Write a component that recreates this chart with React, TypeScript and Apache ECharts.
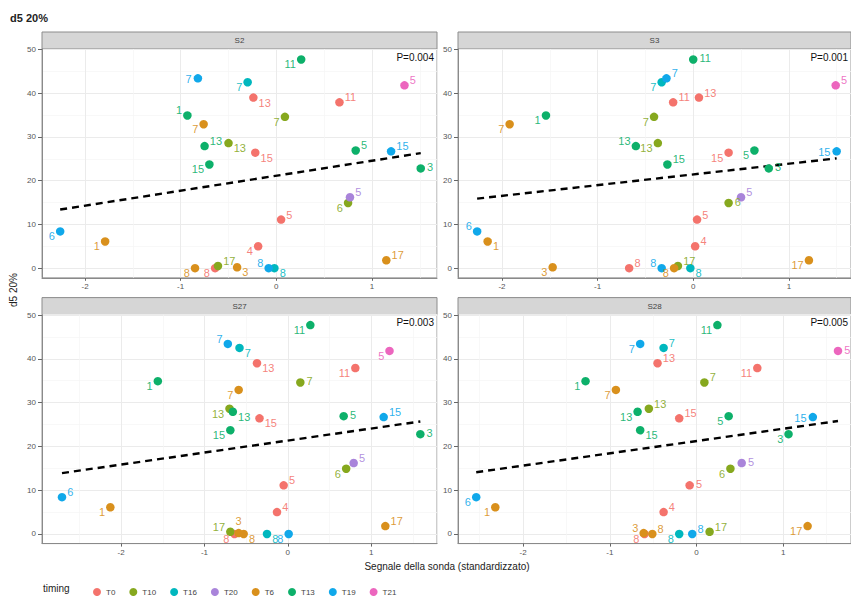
import React, { useEffect, useRef } from 'react';
import * as echarts from 'echarts';

// ---- DATA ----
const timingOrder = ['T0', 'T10', 'T16', 'T20', 'T6', 'T13', 'T19', 'T21'];
const timingColors: Record<string, string> = {
  T0: '#F4736C',
  T10: '#86A81E',
  T16: '#00B7BE',
  T20: '#A984DA',
  T6: '#D9901C',
  T13: '#0DB06A',
  T19: '#10A8EA',
  T21: '#EC66BE',
};

const panelNames = ['S2', 'S3', 'S27', 'S28'];
const pValues = ['P=0.004', 'P=0.001', 'P=0.003', 'P=0.005'];

const subjects = ['11', '7', '7', '13', '11', '5', '1', '7', '7', '13', '13', '15', '15', '5', '15', '3', '5', '6', '5', '4', '6', '1', '17', '17', '3', '8', '8', '8', '8'];
const timings = ['T13', 'T19', 'T16', 'T0', 'T0', 'T21', 'T13', 'T10', 'T6', 'T13', 'T10', 'T0', 'T13', 'T13', 'T19', 'T13', 'T20', 'T10', 'T0', 'T0', 'T19', 'T6', 'T6', 'T10', 'T6', 'T6', 'T0', 'T16', 'T19'];
const d5 = [47.7, 43.4, 42.5, 39.0, 37.9, 41.8, 34.9, 34.6, 32.9, 27.9, 28.6, 26.4, 23.7, 26.9, 26.7, 22.8, 16.2, 14.9, 11.1, 5.0, 8.4, 6.1, 1.8, 0.5, 0.2, 0, 0, 0, 0];

const xS2 = [0.26, -0.82, -0.30, -0.24, 0.66, 1.34, -0.93, 0.09, -0.76, -0.75, -0.50, -0.22, -0.70, 0.83, 1.20, 1.51, 0.77, 0.75, 0.05, -0.19, -2.26, -1.79, 1.15, -0.61, -0.41, -0.85, -0.64, -0.02, -0.08];
const xS3 = [0.00, -0.28, -0.33, 0.06, -0.21, 1.49, -1.54, -0.41, -1.92, -0.60, -0.37, 0.37, -0.27, 0.64, 1.50, 0.79, 0.50, 0.37, 0.04, 0.02, -2.26, -2.15, 1.21, -0.16, -1.47, -0.20, -0.67, -0.03, -0.33];
const xS27 = [0.27, -0.72, -0.58, -0.37, 0.81, 1.22, -1.56, 0.15, -0.59, -0.66, -0.70, -0.34, -0.69, 0.67, 1.15, 1.59, 0.79, 0.70, -0.05, -0.13, -2.71, -2.13, 1.17, -0.69, -0.59, -0.53, -0.64, -0.25, 0.01];
const xS28 = [0.24, -0.65, -0.38, -0.45, 0.70, 1.63, -1.28, 0.09, -0.93, -0.68, -0.55, -0.20, -0.65, 0.37, 1.34, 1.06, 0.52, 0.39, -0.08, -0.38, -2.54, -2.32, 1.28, 0.15, -0.61, -0.51, -0.60, -0.20, -0.05];

// regression line end points
const fitS2 = [[-2.26, 13.4], [1.51, 26.3]];
const fitS3 = [[-2.26, 15.9], [1.50, 25.1]];
const fitS27 = [[-2.71, 13.9], [1.59, 25.7]];
const fitS28 = [[-2.54, 14.1], [1.63, 25.8]];

// ---- LAYOUT (label placement, panel geometry) ----
const labelDirS2 = ['lb', 'l', 'lb', 'rb', 'ra', 'ra', 'la', 'lb', 'lb', 'ra', 'rb', 'rb', 'lb', 'ra', 'ra', 'r', 'ra', 'lb', 'ra', 'lb', 'lb', 'lb', 'ra', 'ra', 'rb', 'lb', 'lb', 'rb', 'la'];
const labelDirS3 = ['r', 'ra', 'lb', 'ra', 'ra', 'ra', 'lb', 'lb', 'lb', 'la', 'lb', 'lb', 'ra', 'lb', 'l', 'r', 'ra', 'r', 'ra', 'ra', 'la', 'rb', 'lb', 'ra', 'lb', 'lb', 'ra', 'rb', 'la'];
const labelDirS27 = ['lb', 'la', 'rb', 'rb', 'lb', 'lb', 'lb', 'r', 'lb', 'rb', 'lb', 'rb', 'lb', 'r', 'ra', 'r', 'ra', 'lb', 'ra', 'ra', 'ra', 'lb', 'ra', 'la', 'a', 'rb', 'lb', 'rb', 'lb'];
const labelDirS28 = ['lb', 'lb', 'ra', 'ra', 'lb', 'r', 'lb', 'ra', 'lb', 'lb', 'ra', 'ra', 'rb', 'lb', 'l', 'lb', 'r', 'lb', 'r', 'ra', 'lb', 'lb', 'lb', 'ra', 'la', 'ra', 'lb', 'lb', 'ra'];

const panelX = [xS2, xS3, xS27, xS28];
const panelFit = [fitS2, fitS3, fitS27, fitS28];
const panelDirs = [labelDirS2, labelDirS3, labelDirS27, labelDirS28];

const PANELS = [
  { left: 42, top: 49, width: 395, height: 228.8, xMin: -2.45, xMax: 1.68 },
  { left: 458, top: 49, width: 393, height: 228.8, xMin: -2.46, xMax: 1.65 },
  { left: 42, top: 314.6, width: 395, height: 229, xMin: -2.95, xMax: 1.79 },
  { left: 458, top: 314.6, width: 393, height: 229, xMin: -2.75, xMax: 1.78 },
];
const Y_MIN = -2.2;
const Y_MAX = 50.1;
const STRIP_H = 17;
const FONT = '"Liberation Sans", Arial, Helvetica, sans-serif';

function labelFor(dir: string) {
  switch (dir) {
    case 'r': return { position: 'right', offset: [0, -1] };
    case 'l': return { position: 'left', offset: [0, 1] };
    case 'ra': return { position: 'right', offset: [-1, -5] };
    case 'rb': return { position: 'right', offset: [-1, 5] };
    case 'la': return { position: 'left', offset: [1, -5] };
    case 'lb': return { position: 'left', offset: [1, 5] };
    case 'a': return { position: 'top', offset: [0, 0] };
    default: return { position: 'bottom', offset: [0, 0] };
  }
}

function buildOption() {
  const grid = PANELS.map((p) => ({
    left: p.left, top: p.top, width: p.width, height: p.height,
    show: true, borderColor: '#9a9a9a', borderWidth: 1, backgroundColor: '#fff',
  }));

  const xAxis = PANELS.map((p, i) => ({
    type: 'value', gridIndex: i, min: p.xMin, max: p.xMax,
    minInterval: 1, maxInterval: 1, splitNumber: 4,
    axisLine: { show: true, onZero: false, lineStyle: { color: '#8a8a8a', width: 1 } },
    axisTick: { show: true, length: 3, lineStyle: { color: '#666' } },
    axisLabel: { fontSize: 8, color: '#555', margin: 5, fontFamily: FONT, showMinLabel: false, showMaxLabel: false },
    splitLine: { show: true, lineStyle: { color: '#EBEBEB', width: 1 } },
    minorTick: { show: false, splitNumber: 2 },
    minorSplitLine: { show: true, lineStyle: { color: '#F5F5F5', width: 0.7 } },
  }));

  const yAxis = PANELS.map((p, i) => ({
    type: 'value', gridIndex: i, min: Y_MIN, max: Y_MAX,
    minInterval: 10, maxInterval: 10, splitNumber: 5,
    axisLine: { show: true, onZero: false, lineStyle: { color: '#8a8a8a', width: 1 } },
    axisTick: { show: true, length: 4, lineStyle: { color: '#666' } },
    axisLabel: { fontSize: 8, color: '#555', margin: 6, fontFamily: FONT, showMinLabel: false, showMaxLabel: false },
    splitLine: { show: true, lineStyle: { color: '#EBEBEB', width: 1 } },
    minorTick: { show: false, splitNumber: 2 },
    minorSplitLine: { show: true, lineStyle: { color: '#F5F5F5', width: 0.7 } },
  }));

  const series: any[] = [];
  PANELS.forEach((p, pi) => {
    series.push({
      type: 'line', name: 'fit', xAxisIndex: pi, yAxisIndex: pi,
      data: panelFit[pi], symbol: 'none', silent: true, z: 1,
      lineStyle: { color: '#000', width: 2.4, type: [7, 5] },
    });
    timingOrder.forEach((t) => {
      const data: any[] = [];
      timings.forEach((tt, i) => {
        if (tt !== t) return;
        const l = labelFor(panelDirs[pi][i]);
        data.push({
          name: subjects[i],
          value: [panelX[pi][i], d5[i]],
          label: { position: l.position, offset: l.offset },
        });
      });
      series.push({
        type: 'scatter', name: t, xAxisIndex: pi, yAxisIndex: pi,
        symbol: 'circle', symbolSize: 8.5, z: 3,
        itemStyle: { color: timingColors[t], opacity: 1 },
        label: {
          show: true, formatter: '{b}', fontSize: 11, distance: 2,
          color: timingColors[t], opacity: 0.9, fontFamily: FONT,
        },
        data,
      });
    });
  });

  const graphic: any[] = [];
  PANELS.forEach((p, pi) => {
    graphic.push({
      type: 'rect', silent: true,
      shape: { x: p.left, y: p.top - STRIP_H, width: p.width, height: STRIP_H },
      style: { fill: '#D6D6D6', stroke: '#8c8c8c', lineWidth: 1 },
    });
    graphic.push({
      type: 'text', silent: true, x: p.left + p.width / 2, y: p.top - STRIP_H / 2,
      style: { text: panelNames[pi], fill: '#444', font: `8px ${FONT}`, align: 'center', verticalAlign: 'middle' },
    });
    graphic.push({
      type: 'text', silent: true, x: p.left + p.width - 3, y: p.top + 8, z: 10,
      style: { text: pValues[pi], fill: '#111', font: `10px ${FONT}`, align: 'right', verticalAlign: 'middle' },
    });
  });
  graphic.push({
    type: 'text', silent: true, x: 10, y: 18,
    style: { text: 'd5 20%', fill: '#222', font: `bold 11px ${FONT}`, align: 'left', verticalAlign: 'middle' },
  });
  graphic.push({
    type: 'text', silent: true, x: 13, y: 290, rotation: Math.PI / 2,
    style: { text: 'd5 20%', fill: '#222', font: `10px ${FONT}`, align: 'center', verticalAlign: 'middle' },
  });
  graphic.push({
    type: 'text', silent: true, x: 447, y: 566,
    style: { text: 'Segnale della sonda (standardizzato)', fill: '#222', font: `10px ${FONT}`, align: 'center', verticalAlign: 'middle' },
  });
  graphic.push({
    type: 'text', silent: true, x: 43, y: 588,
    style: { text: 'timing', fill: '#222', font: `10px ${FONT}`, align: 'left', verticalAlign: 'middle' },
  });

  return {
    animation: false,
    backgroundColor: '#fff',
    textStyle: { fontFamily: FONT },
    grid, xAxis, yAxis, series, graphic,
    legend: {
      data: timingOrder, left: 88, top: 583, icon: 'circle',
      itemWidth: 8, itemHeight: 8, itemGap: 14, selectedMode: false,
      textStyle: { fontSize: 8, color: '#444', fontFamily: FONT },
    },
  };
}

export default function App() {
  const ref = useRef<HTMLDivElement>(null);
  useEffect(() => {
    document.body.style.margin = '0';
    const chart = echarts.init(ref.current!, null, { renderer: 'svg' });
    chart.setOption(buildOption() as any);
    return () => chart.dispose();
  }, []);
  return <div ref={ref} style={{ width: 851, height: 596 }} />;
}
